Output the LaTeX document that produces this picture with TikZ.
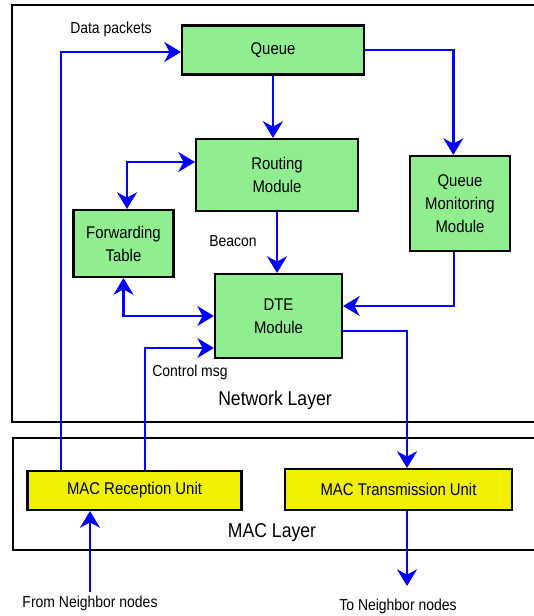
\documentclass[tikz,border=0pt]{standalone}
\usepackage{fontspec}
\setmainfont{Liberation Sans}[FakeStretch=0.88]
\usetikzlibrary{arrows.meta}

\definecolor{modgreen}{HTML}{90EE90}
\definecolor{macyellow}{HTML}{F0F000}

\begin{document}
\begin{tikzpicture}[x=0.75pt, y=-0.75pt, inner sep=0pt,
            module/.style={draw, line width=1.6pt, fill=modgreen, align=center, font=\fontsize{12.7}{17.2}\selectfont},
            macunit/.style={module, fill=macyellow},
            lbl/.style={font=\fontsize{11.9}{13}\selectfont},
            layer/.style={font=\fontsize{15}{17}\selectfont}]
            \clip (0, 0) rectangle (534, 616);
            \draw[line width=1.6pt] (12, 5) rectangle (560, 422);
            \draw[line width=1.6pt] (13, 438) rectangle (560, 550);

            \node[module, minimum width=136.5pt, minimum height=36.75pt](queue) at (273, 50) {Queue};
            \node[module, minimum width=121.5pt, minimum height=54pt](routing) at (277, 175) {Routing\\Module};
            \node[module, minimum width=75pt, minimum height=71.25pt](qmon) at (460, 203.5) {Queue\\Monitoring\\Module};
            \node[module, minimum width=75pt, minimum height=50.25pt](fwd) at (123.5, 243.5) {Forwarding\\Table};
            \node[module, minimum width=95.25pt, minimum height=63pt](dte) at (278.5, 316) {DTE\\Module};
            \node[macunit, minimum width=160.5pt, minimum height=29.25pt](rx) at (134.5, 490.5) {MAC Reception Unit};
            \node[macunit, minimum width=170.25pt, minimum height=30.75pt](tx) at (398.5, 489.5) {MAC Transmission Unit};

            \node[lbl](dplabel) at (111, 29) {Data packets};
            \node[lbl](bclabel) at (233, 241) {Beacon};
            \node[lbl](ctllabel) at (190, 372) {Control msg};
            \node[layer](netlabel) at (275, 400) {Network Layer};
            \node[layer](maclabel) at (272, 533) {MAC Layer};
            \node[lbl](srclabel) at (90, 603) {From Neighbor nodes};
            \node[lbl](dstlabel) at (398, 606) {To Neighbor nodes};

            \coordinate (dpbend) at (61, 52);
            \coordinate (rtbend) at (127, 162);
            \coordinate (qmbend) at (454, 306);
            \coordinate (txbend) at (407, 331);
            \coordinate (ctlbend) at (145, 348);
            \coordinate (src) at (90, 592);
            \coordinate (dst) at (407, 586);

            \begin{scope}[->, >={Stealth[length=12.5pt, width=15pt, inset=4pt]}, blue, line width=1.8pt]
                \draw (rx.north -| dpbend) |- (queue.west |- dpbend);
                \draw (queue.south) -- (queue.south |- routing.north);
                \draw (queue.east) -| ([xshift=-5pt]qmon.north);
                \draw[<->] (routing.west |- rtbend) -| (fwd.north -| rtbend);
                \draw (routing.south) -- (routing.south |- dte.north);
                \draw[<->] (fwd.south) |- (dte.west);
                \draw (qmon.south -| qmbend) |- (dte.east |- qmbend);
                \draw (dte.east |- txbend) -| (tx.north -| txbend);
                \draw (rx.north -| ctlbend) |- (dte.west |- ctlbend);
                \draw (src) -- (src |- rx.south);
                \draw (dst |- tx.south) -- (dst);
            \end{scope}
        \end{tikzpicture}
\end{document}
